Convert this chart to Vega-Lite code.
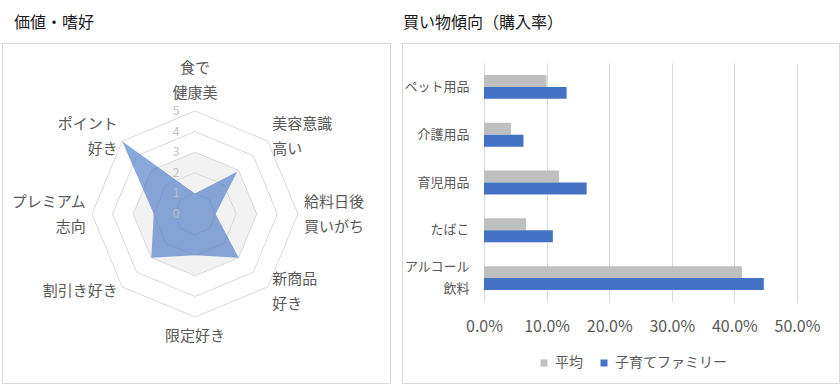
{
  "$schema": "https://vega.github.io/schema/vega-lite/v6.json",
  "background": "white",
  "padding": {"left": 1, "top": 14, "right": 0, "bottom": 0},
  "bounds": "flush",
  "config": {
    "font": "Noto Sans CJK JP",
    "view": {"stroke": "#d9d9d9", "strokeWidth": 1},
    "concat": {"spacing": 12},
    "title": {"fontSize": 16, "fontWeight": "normal", "color": "#1a1a1a", "anchor": "start", "offset": 12, "font": "Noto Sans CJK JP"}
  },
  "datasets": {
    "radar": [
      {"item": "食で|健康美", "value": 1.0},
      {"item": "美容意識|高い", "value": 2.9},
      {"item": "給料日後|買いがち", "value": 1.0},
      {"item": "新商品|好き", "value": 3.0},
      {"item": "限定好き", "value": 2.0},
      {"item": "割引き好き", "value": 3.0},
      {"item": "プレミアム|志向", "value": 2.0},
      {"item": "ポイント|好き", "value": 5.0}
    ],
    "ticks": [{"t": 0}, {"t": 1}, {"t": 2}, {"t": 3}, {"t": 4}, {"t": 5}],
    "shopping": [
      {"item": "ペット用品", "series": "平均", "rate": 0.100},
      {"item": "ペット用品", "series": "子育てファミリー", "rate": 0.132},
      {"item": "介護用品", "series": "平均", "rate": 0.043},
      {"item": "介護用品", "series": "子育てファミリー", "rate": 0.063},
      {"item": "育児用品", "series": "平均", "rate": 0.120},
      {"item": "育児用品", "series": "子育てファミリー", "rate": 0.164},
      {"item": "たばこ", "series": "平均", "rate": 0.067},
      {"item": "たばこ", "series": "子育てファミリー", "rate": 0.110},
      {"item": "アルコール飲料", "series": "平均", "rate": 0.412},
      {"item": "アルコール飲料", "series": "子育てファミリー", "rate": 0.447}
    ]
  },
  "hconcat": [
    {
      "width": 388,
      "height": 340,
      "title": {"text": "価値・嗜好", "dx": 12},
      "encoding": {
        "x": {"field": "px", "type": "quantitative", "scale": {"domain": [-9.37, 9.47], "nice": false, "zero": false}, "axis": null},
        "y": {"field": "py", "type": "quantitative", "scale": {"domain": [-8.2, 8.3], "nice": false, "zero": false}, "axis": null}
      },
      "layer": [
        {
          "data": {"name": "radar"},
          "transform": [
            {"window": [{"op": "row_number", "as": "k"}]},
            {"calculate": "(datum.k - 1) * PI / 4", "as": "angle"},
            {"calculate": "3 * sin(datum.angle)", "as": "px"},
            {"calculate": "3 * cos(datum.angle)", "as": "py"}
          ],
          "mark": {"type": "line", "interpolate": "linear-closed", "filled": true, "fill": "#f2f2f2", "strokeWidth": 0},
          "encoding": {"order": {"field": "k", "type": "quantitative"}}
        },
        {
          "data": {"name": "radar"},
          "transform": [
            {"window": [{"op": "row_number", "as": "k"}]},
            {"calculate": "(datum.k - 1) * PI / 4", "as": "angle"},
            {"calculate": "[1, 2, 3, 4, 5]", "as": "levels"},
            {"flatten": ["levels"], "as": ["level"]},
            {"calculate": "datum.level * sin(datum.angle)", "as": "px"},
            {"calculate": "datum.level * cos(datum.angle)", "as": "py"}
          ],
          "mark": {"type": "line", "interpolate": "linear-closed", "stroke": "#d9d9d9", "strokeWidth": 1},
          "encoding": {
            "detail": {"field": "level", "type": "nominal"},
            "order": {"field": "k", "type": "quantitative"}
          }
        },
        {
          "data": {"name": "radar"},
          "transform": [
            {"window": [{"op": "row_number", "as": "k"}]},
            {"calculate": "(datum.k - 1) * PI / 4", "as": "angle"},
            {"calculate": "datum.value * sin(datum.angle)", "as": "px"},
            {"calculate": "datum.value * cos(datum.angle)", "as": "py"}
          ],
          "mark": {"type": "line", "interpolate": "linear-closed", "filled": true, "fill": "#4472c4", "fillOpacity": 0.62, "strokeWidth": 0},
          "encoding": {"order": {"field": "k", "type": "quantitative"}}
        },
        {
          "data": {"name": "ticks"},
          "transform": [
            {"calculate": "0", "as": "px"},
            {"calculate": "datum.t", "as": "py"}
          ],
          "mark": {"type": "text", "dx": -19, "fontSize": 12, "fill": "#bfbfbf", "align": "center", "baseline": "middle"},
          "encoding": {"text": {"field": "t", "type": "quantitative"}}
        },
        {
          "data": {"name": "radar"},
          "transform": [
            {"window": [{"op": "row_number", "as": "k"}]},
            {"calculate": "(datum.k - 1) * PI / 4", "as": "angle"},
            {"filter": "sin(datum.angle) > 0.1"},
            {"calculate": "split(datum.item, '|')", "as": "lines"},
            {"calculate": "5.3 * sin(datum.angle)", "as": "px"},
            {"calculate": "5.3 * cos(datum.angle) + 0.607 * (length(datum.lines) - 1)", "as": "py"}
          ],
          "mark": {"type": "text", "align": "left", "baseline": "middle", "fontSize": 15, "fill": "#595959", "lineHeight": 25},
          "encoding": {"text": {"field": "lines"}}
        },
        {
          "data": {"name": "radar"},
          "transform": [
            {"window": [{"op": "row_number", "as": "k"}]},
            {"calculate": "(datum.k - 1) * PI / 4", "as": "angle"},
            {"filter": "sin(datum.angle) < -0.1"},
            {"calculate": "split(datum.item, '|')", "as": "lines"},
            {"calculate": "5.3 * sin(datum.angle)", "as": "px"},
            {"calculate": "5.3 * cos(datum.angle) + 0.607 * (length(datum.lines) - 1)", "as": "py"}
          ],
          "mark": {"type": "text", "align": "right", "baseline": "middle", "fontSize": 15, "fill": "#595959", "lineHeight": 25},
          "encoding": {"text": {"field": "lines"}}
        },
        {
          "data": {"name": "radar"},
          "transform": [
            {"window": [{"op": "row_number", "as": "k"}]},
            {"calculate": "(datum.k - 1) * PI / 4", "as": "angle"},
            {"filter": "abs(sin(datum.angle)) < 0.1 && cos(datum.angle) > 0"},
            {"calculate": "split(datum.item, '|')", "as": "lines"},
            {"calculate": "0", "as": "px"},
            {"calculate": "6.47 * cos(datum.angle) + 0.607 * (length(datum.lines) - 1)", "as": "py"}
          ],
          "mark": {"type": "text", "align": "center", "baseline": "middle", "fontSize": 15, "fill": "#595959", "lineHeight": 25},
          "encoding": {"text": {"field": "lines"}}
        },
        {
          "data": {"name": "radar"},
          "transform": [
            {"window": [{"op": "row_number", "as": "k"}]},
            {"calculate": "(datum.k - 1) * PI / 4", "as": "angle"},
            {"filter": "abs(sin(datum.angle)) < 0.1 && cos(datum.angle) < 0"},
            {"calculate": "split(datum.item, '|')", "as": "lines"},
            {"calculate": "0", "as": "px"},
            {"calculate": "5.93 * cos(datum.angle) + 0.607 * (length(datum.lines) - 1)", "as": "py"}
          ],
          "mark": {"type": "text", "align": "center", "baseline": "middle", "fontSize": 15, "fill": "#595959", "lineHeight": 25},
          "encoding": {"text": {"field": "lines"}}
        }
      ]
    },
    {
      "width": 437,
      "height": 340,
      "title": {"text": "買い物傾向（購入率）", "dx": 1},
      "data": {"name": "shopping"},
      "mark": {"type": "bar"},
      "encoding": {
        "y": {
          "field": "item",
          "type": "nominal",
          "sort": ["ペット用品", "介護用品", "育児用品", "たばこ", "アルコール飲料"],
          "scale": {"range": [20, 259], "paddingInner": 0.5, "paddingOuter": 0.25},
          "axis": {
            "title": null, "domain": false, "ticks": false, "offset": -70, "labelPadding": 3,
            "labelFontSize": 13, "labelColor": "#595959", "labelLineHeight": 22, "labelBaseline": "middle",
            "labelOffset": {"condition": {"test": "datum.value == 'アルコール飲料'", "value": -11}, "value": 0},
            "labelExpr": "datum.value == 'アルコール飲料' ? ['アルコール', '飲料'] : datum.value"
          }
        },
        "yOffset": {"field": "series", "type": "nominal", "sort": ["平均", "子育てファミリー"]},
        "x": {
          "field": "rate",
          "type": "quantitative",
          "stack": null,
          "scale": {"domain": [-0.131, 0.5671], "nice": false},
          "axis": {
            "orient": "top",
            "title": null, "values": [0, 0.1, 0.2, 0.3, 0.4, 0.5], "format": ".1%",
            "grid": true, "gridColor": "#d9d9d9", "domain": false, "ticks": false,
            "offset": -293, "labelPadding": 2, "labelFontSize": 16, "labelColor": "#595959"
          }
        },
        "color": {
          "field": "series",
          "type": "nominal",
          "scale": {"domain": ["平均", "子育てファミリー"], "range": ["#bfbfbf", "#4472c4"]},
          "legend": {
            "title": null, "orient": "none", "direction": "horizontal", "legendX": 535, "legendY": 313,
            "symbolType": "square", "symbolSize": 49, "symbolStrokeWidth": 0, "labelOffset": 4,
            "labelFontSize": 14, "labelColor": "#595959", "columnPadding": 14
          }
        }
      }
    }
  ]
}
